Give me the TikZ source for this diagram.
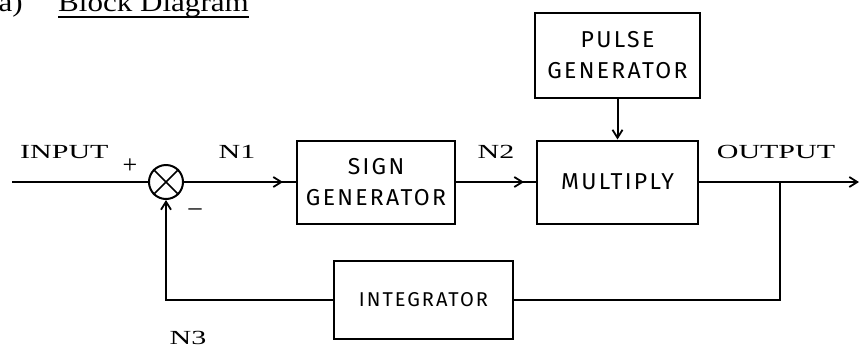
\documentclass[tikz,border=0pt]{standalone}
\usepackage{fontspec}
\setmainfont{Liberation Serif}
\newfontfamily\typefont[FakeStretch=1.5]{Liberation Serif}
\newfontfamily\titlefont[FakeStretch=1.15]{Liberation Serif}
\newfontfamily\handfont[LetterSpace=10]{Fira Sans}
\usetikzlibrary{arrows.meta,decorations.markings}
\begin{document}
\begin{tikzpicture}[x=1pt,y=-1pt,
  wire/.style={line width=2pt},
  blk/.style={draw,line width=2pt,inner sep=0pt,align=center,
    font=\handfont\fontsize{23}{31}\selectfont},
  lbl/.style={font=\typefont\fontsize{20}{20}\selectfont,inner sep=0pt,anchor=base},
  sgn/.style={font=\fontsize{26}{26}\selectfont,inner sep=0pt},
  tip/.style={-{Straight Barb[length=8pt,width=10pt,line width=1.8pt]}},
  midarr/.style={postaction={decorate},decoration={markings,
    mark=at position #1 with {\arrow{Straight Barb[length=8pt,width=10pt,line width=1.8pt]}}}}
]
\useasboundingbox (0,0) rectangle (860,349);

% title (top clipped as in the reference)
\node[anchor=base east,inner sep=0pt,font=\titlefont\fontsize{27}{27}\selectfont] (num) at (23,11) {(a)};
\node[anchor=base west,inner sep=0pt,font=\titlefont\fontsize{27}{27}\selectfont] (title) at (58,11) {Block Diagram};
\draw[line width=2pt] ([yshift=-6pt]title.base west) -- ([yshift=-6pt]title.base east);

% blocks
\node[draw,circle,line width=2pt,minimum size=34pt,inner sep=0pt] (sum) at (166,182) {};
\draw[line width=1.6pt] (sum.north west) -- (sum.south east) (sum.north east) -- (sum.south west);
\node[blk,minimum width=158pt,minimum height=83pt] (sign) at (376,182) {SIGN\\GENERATOR};
\node[blk,minimum width=161pt,minimum height=83pt] (mult) at (617.5,182) {MULTIPLY};
\node[blk,minimum width=165pt,minimum height=85pt] (pulse) at (617.5,55.5) {PULSE\\GENERATOR};
\node[blk,minimum width=179pt,minimum height=78pt,font=\handfont\fontsize{20}{20}\selectfont] (integ) at (423.5,300) {INTEGRATOR};

% labels
\node[lbl,anchor=base west] (linput) at (20,158) {INPUT};
\node[lbl] (ln1) at (237,158) {N1};
\node[lbl] (ln2) at (496,158) {N2};
\node[lbl] (lout) at (776,158) {OUTPUT};
\node[lbl] (ln3) at (188,344) {N3};
\node[sgn] (plus) at (130,166) {+};
\node[sgn] (minus) at (195,212) {--};

% connectors
\coordinate (in) at (12,182);
\coordinate (out) at (859,182);
\coordinate (tap) at (780,182);
\draw[wire] (in) -- (sum.west);
\draw[wire,midarr=-13pt] (sum.east) -- (sign.west);
\draw[wire,midarr=-12pt] (sign.east) -- (mult.west);
\draw[wire,tip] (pulse.south) -- (mult.north);
\draw[wire,tip] (mult.east) -- (out);
\draw[wire] (tap) |- (integ.east);
\draw[wire,tip] (integ.west) -| (sum.south);
\end{tikzpicture}
\end{document}
